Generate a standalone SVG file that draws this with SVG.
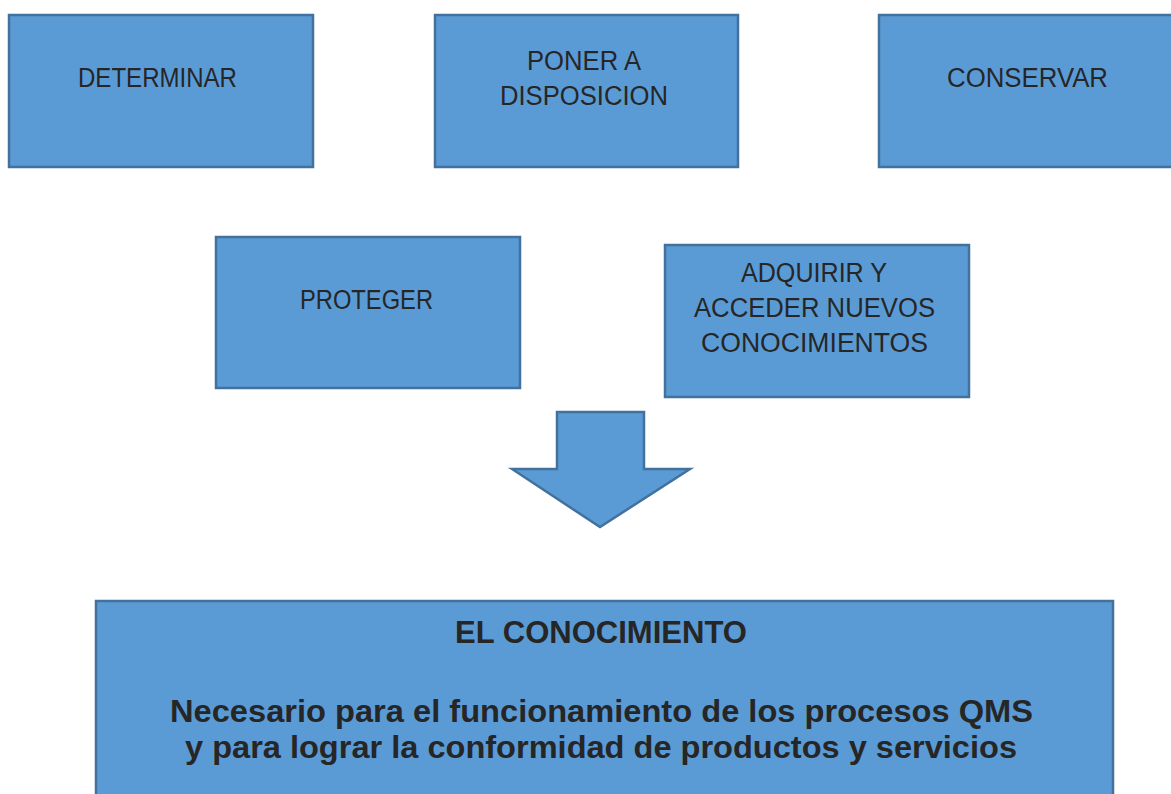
<svg xmlns="http://www.w3.org/2000/svg" width="1171" height="794" viewBox="0 0 1171 794">
<style>
.box{fill:#5b9bd5;stroke:#41719c;stroke-width:2.5}
.t{font-family:"Liberation Sans",Arial,sans-serif;font-size:27px;fill:#262626;text-anchor:start}
.b{font-family:"Liberation Sans",Arial,sans-serif;font-size:32px;font-weight:bold;fill:#262626}
</style>
<rect width="1171" height="794" fill="#ffffff"/>
<g id="determinar">
<rect class="box" x="9" y="15" width="304" height="152"/>
<text class="t" x="78" y="87" textLength="159" lengthAdjust="spacingAndGlyphs">DETERMINAR</text>
</g>
<g id="poner">
<rect class="box" x="435" y="15" width="303" height="152"/>
<text class="t" x="527" y="70" textLength="114" lengthAdjust="spacingAndGlyphs">PONER A</text>
<text class="t" x="500" y="105" textLength="168" lengthAdjust="spacingAndGlyphs">DISPOSICION</text>
</g>
<g id="conservar">
<rect class="box" x="879" y="15" width="300" height="152"/>
<text class="t" x="947" y="87" textLength="161" lengthAdjust="spacingAndGlyphs">CONSERVAR</text>
</g>
<g id="proteger">
<rect class="box" x="216" y="237" width="304" height="151"/>
<text class="t" x="300" y="309" textLength="133" lengthAdjust="spacingAndGlyphs">PROTEGER</text>
</g>
<g id="adquirir">
<rect class="box" x="665" y="245" width="304" height="152"/>
<text class="t" x="741" y="282" textLength="146" lengthAdjust="spacingAndGlyphs">ADQUIRIR Y</text>
<text class="t" x="694" y="317" textLength="241" lengthAdjust="spacingAndGlyphs">ACCEDER NUEVOS</text>
<text class="t" x="701" y="352" textLength="227" lengthAdjust="spacingAndGlyphs">CONOCIMIENTOS</text>
</g>
<g id="connectors">
<path class="box" d="M557,412 L644,412 L644,469 L690,469 L600,527 L512,469 L557,469 Z"/>
</g>
<g id="conocimiento">
<rect class="box" x="96" y="601" width="1017" height="210"/>
<text class="b" x="455" y="643" textLength="292" lengthAdjust="spacingAndGlyphs">EL CONOCIMIENTO</text>
<text class="b" x="170" y="722" textLength="863" lengthAdjust="spacingAndGlyphs">Necesario para el funcionamiento de los procesos QMS</text>
<text class="b" x="185" y="758" textLength="832" lengthAdjust="spacingAndGlyphs">y para lograr la conformidad de productos y servicios</text>
</g>
</svg>
